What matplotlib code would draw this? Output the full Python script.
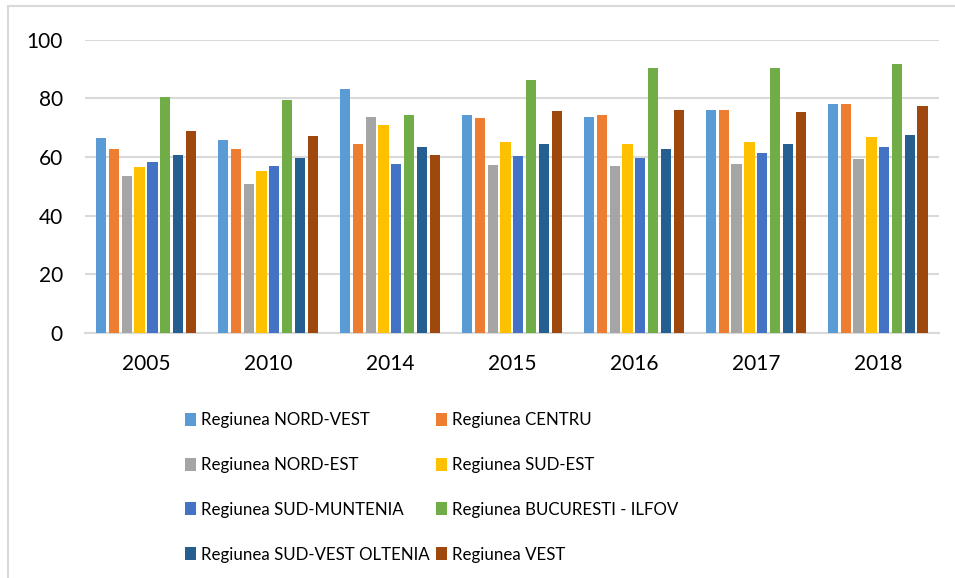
"""Regional bar chart (Excel style), matplotlib only."""
import matplotlib
matplotlib.use("Agg")
import matplotlib.pyplot as plt
from matplotlib.patches import Patch, Rectangle
import numpy as np

years = ["2005", "2010", "2014", "2015", "2016", "2017", "2018"]
regions = ["Regiunea NORD-VEST", "Regiunea CENTRU", "Regiunea NORD-EST", "Regiunea SUD-EST",
           "Regiunea SUD-MUNTENIA", "Regiunea BUCURESTI - ILFOV", "Regiunea SUD-VEST OLTENIA",
           "Regiunea VEST"]
nord_vest = [66.5, 65.8, 83.3, 74.4, 73.7, 76.1, 78.1]
centru = [62.8, 62.8, 64.6, 73.2, 74.4, 76.0, 78.2]
nord_est = [53.5, 50.8, 73.7, 57.3, 56.8, 57.7, 59.2]
sud_est = [56.6, 55.3, 71.0, 65.2, 64.4, 65.0, 66.8]
sud_muntenia = [58.2, 57.0, 57.6, 60.4, 59.7, 61.5, 63.5]
bucuresti_ilfov = [80.5, 79.6, 74.3, 86.2, 90.3, 90.5, 91.6]
sud_vest_oltenia = [60.6, 59.6, 63.3, 64.3, 62.7, 64.4, 67.5]
vest = [69.0, 67.1, 60.6, 75.8, 76.0, 75.3, 77.4]
series = [nord_vest, centru, nord_est, sud_est, sud_muntenia, bucuresti_ilfov,
          sud_vest_oltenia, vest]
colors = ["#5B9BD5", "#ED7D31", "#A5A5A5", "#FFC000", "#4472C4", "#70AD47", "#255E91", "#9E480E"]

plt.rcParams["font.family"] = ["Lato", "DejaVu Sans"]

fig = plt.figure(figsize=(9.55, 5.78), dpi=100)
ax = fig.add_axes([0.089, 0.424, 0.894, 0.507])

x = np.arange(len(years))
pitch = 0.105
for i, (vals, col) in enumerate(zip(series, colors)):
    ax.bar(x + (i - 3.5) * pitch, vals, width=pitch * 0.8, color=col, zorder=3)

ax.set_xlim(-0.5, len(years) - 0.5)
ax.set_ylim(0, 100)
ax.set_yticks(range(0, 101, 20))
ax.set_xticks(x)
ax.set_xticklabels(years)
ax.grid(axis="y", color="#D9D9D9", lw=1.5, zorder=0)
for s in ["top", "right", "left"]:
    ax.spines[s].set_visible(False)
ax.spines["bottom"].set_color("#D9D9D9")
ax.spines["bottom"].set_linewidth(1.5)
ax.tick_params(length=0, labelsize=15, colors="#000000")
ax.tick_params(axis="y", pad=16)
ax.tick_params(axis="x", pad=15)

order = [0, 2, 4, 6, 1, 3, 5, 7]
handles = [Patch(facecolor=colors[k], label=regions[k]) for k in order]
fig.legend(handles=handles, ncol=2, loc="upper left", bbox_to_anchor=(0.1937, 0.287),
           frameon=False, fontsize=12.2, handlelength=0.65, handleheight=0.8,
           handletextpad=0.3, columnspacing=0.35, labelspacing=1.7, borderaxespad=0,
           borderpad=0)

fig.patches.append(Rectangle((0.008, -0.01), 1.1, 1.0, transform=fig.transFigure,
                             fill=False, edgecolor="#D9D9D9", lw=1.5))

fig.savefig("out.png", dpi=100)
